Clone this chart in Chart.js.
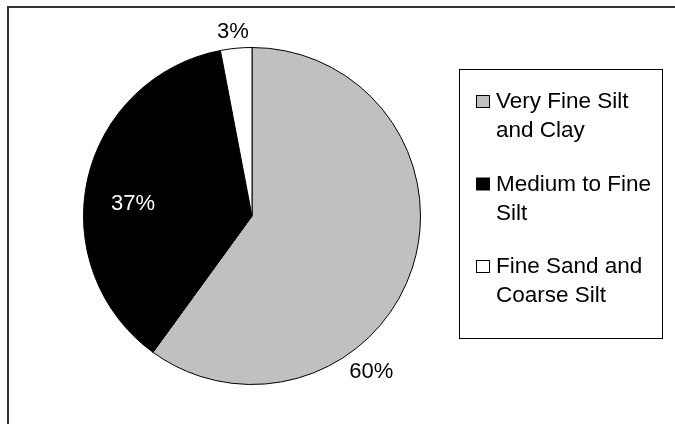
<!DOCTYPE html>
<html>
<head>
<meta charset="utf-8">
<script src="https://cdn.jsdelivr.net/npm/chart.js@4.4.1/dist/chart.umd.min.js"></script>
<style>
  html, body { margin: 0; padding: 0; background: #fff; }
  #wrap { width: 675px; height: 424px; position: relative; }
</style>
</head>
<body>
<div id="wrap"><canvas id="grafikSedimen" width="675" height="424"></canvas></div>
<script>
// sediment fractions (percent), clockwise from 12 o'clock
const CATEGORIES = [
    ['Very Fine Silt', 'and Clay'],
    ['Medium to Fine', 'Silt'],
    ['Fine Sand and', 'Coarse Silt']
];
const PERSEN = [60, 37, 3];
const WARNA = ['#c0c0c0', '#000000', '#ffffff'];
const WARNA_LABEL = ['#000000', '#ffffff', '#000000'];

// where each percent label sits: fraction along the slice, distance in radii
const POSISI_LABEL = [
    { t: 0.66, r: 1.165 },
    { t: 0.45, r: 0.71 },
    { t: 0.45, r: 1.10 }
];

const FONT = "'Liberation Sans', Arial, sans-serif";

const bingkai = {
    id: 'bingkai',
    afterDraw(chart) {
        const c = chart.ctx;
        c.save();
        // outer frame (only top and left edges fall inside the canvas)
        c.strokeStyle = '#333';
        c.lineWidth = 2;
        c.strokeRect(8, 7, 800, 600);

        // percent labels
        const meta = chart.getDatasetMeta(0);
        c.font = '22px ' + FONT;
        c.textAlign = 'center';
        c.textBaseline = 'middle';
        meta.data.forEach((arc, i) => {
            const p = arc.getProps(['x', 'y', 'startAngle', 'endAngle', 'outerRadius'], true);
            const pos = POSISI_LABEL[i];
            const a = p.startAngle + (p.endAngle - p.startAngle) * pos.t;
            const d = p.outerRadius * pos.r;
            c.fillStyle = WARNA_LABEL[i];
            c.fillText(PERSEN[i] + '%', p.x + Math.cos(a) * d, p.y + Math.sin(a) * d);
        });

        // legend box
        c.strokeStyle = '#000';
        c.lineWidth = 1;
        c.strokeRect(459.5, 69.5, 203, 269);
        c.font = '22.5px ' + FONT;
        c.textAlign = 'left';
        c.textBaseline = 'alphabetic';
        CATEGORIES.forEach((lines, i) => {
            const base = 108 + i * 82.5;
            c.fillStyle = WARNA[i];
            c.fillRect(476.5, base - 12.5, 13, 12);
            c.strokeStyle = '#000';
            c.strokeRect(476.5, base - 12.5, 13, 12);
            c.fillStyle = '#000';
            lines.forEach((ln, j) => c.fillText(ln, 496, base + j * 29));
        });
        c.restore();
    }
};

const ctx = document.getElementById('grafikSedimen').getContext('2d');

new Chart(ctx, {
    type: 'pie',
    data: {
        labels: CATEGORIES,
        datasets: [{
            data: PERSEN,
            backgroundColor: WARNA,
            borderColor: '#000',
            borderWidth: 1
        }]
    },
    options: {
        responsive: false,
        animation: false,
        layout: {
            padding: { left: 83, right: 254, top: 47, bottom: 39 }
        },
        plugins: {
            legend: { display: false },
            tooltip: { enabled: false }
        }
    },
    plugins: [bingkai]
});
</script>
</body>
</html>
